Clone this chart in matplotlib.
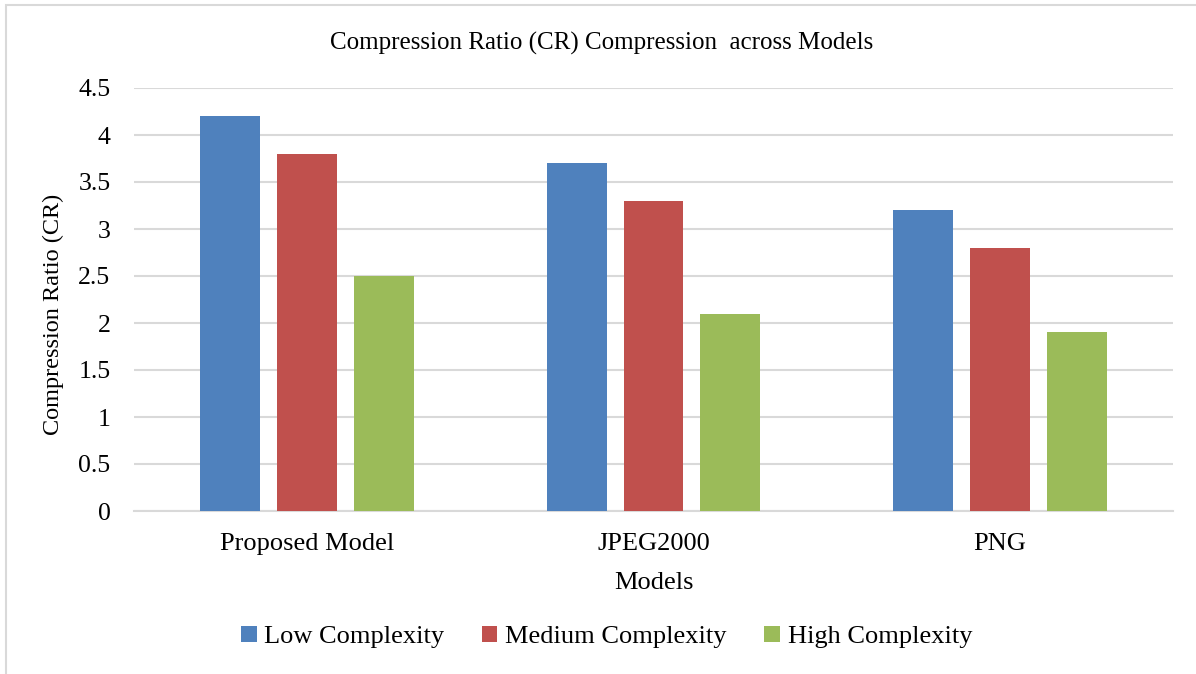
import numpy as np
import matplotlib.pyplot as plt
from matplotlib.patches import Rectangle

models = ['Proposed Model', 'JPEG2000', 'PNG']
series = ['Low Complexity', 'Medium Complexity', 'High Complexity']
low = [4.2, 3.7, 3.2]
medium = [3.8, 3.3, 2.8]
high = [2.5, 2.1, 1.9]
colors = ['#4F81BD', '#C0504D', '#9BBB59']

plt.rcParams['font.family'] = ['Liberation Serif', 'DejaVu Serif']

fig = plt.figure(figsize=(11.96, 6.74), dpi=100)
fig.patches.append(Rectangle((6 / 1196, -0.1), 1.2, 1.1 - 5 / 674, transform=fig.transFigure,
                             fill=False, edgecolor='#D9D9D9', linewidth=1.5))
ax = fig.add_axes([134 / 1196, 1 - 511 / 674, (1173 - 134) / 1196, (511 - 88) / 674])

x = np.arange(len(models))
w = 0.173
step = 0.222
for i, (vals, name) in enumerate(zip([low, medium, high], series)):
    ax.bar(x + (i - 1) * step, vals, w, color=colors[i], label=name, zorder=3)

ax.set_xlim(-0.5, 2.5)
ax.set_ylim(0, 4.5)
ax.set_yticks(np.arange(0, 4.51, 0.5))
ax.set_yticklabels(['0', '0.5', '1', '1.5', '2', '2.5', '3', '3.5', '4', '4.5'])
ax.set_xticks(x)
ax.set_xticklabels(models)
ax.tick_params(axis='both', length=0, colors='black')
ax.tick_params(axis='y', pad=17, labelsize=18.5)
ax.tick_params(axis='x', pad=16, labelsize=19)
ax.grid(axis='y', color='#D9D9D9', linewidth=1.5, zorder=0)
for s in ['top', 'right', 'left']:
    ax.spines[s].set_visible(False)
ax.spines['bottom'].set_color('#D9D9D9')
ax.spines['bottom'].set_linewidth(1.5)

ax.set_xlabel('Models', fontsize=19, labelpad=12)
ax.set_ylabel('Compression Ratio (CR)', fontsize=17.5)
ax.yaxis.set_label_coords(-0.067, 0.465)
fig.text(0.503, 1 - 43 / 674, 'Compression Ratio (CR) Compression  across Models',
         ha='center', va='center', fontsize=18)

fig.legend(loc='center', bbox_to_anchor=(0.507, 1 - 637 / 674), ncol=3, frameon=False,
           fontsize=19, handlelength=0.6, handleheight=0.6, handletextpad=0.3, columnspacing=1.4)

fig.savefig('out.png', dpi=100)
